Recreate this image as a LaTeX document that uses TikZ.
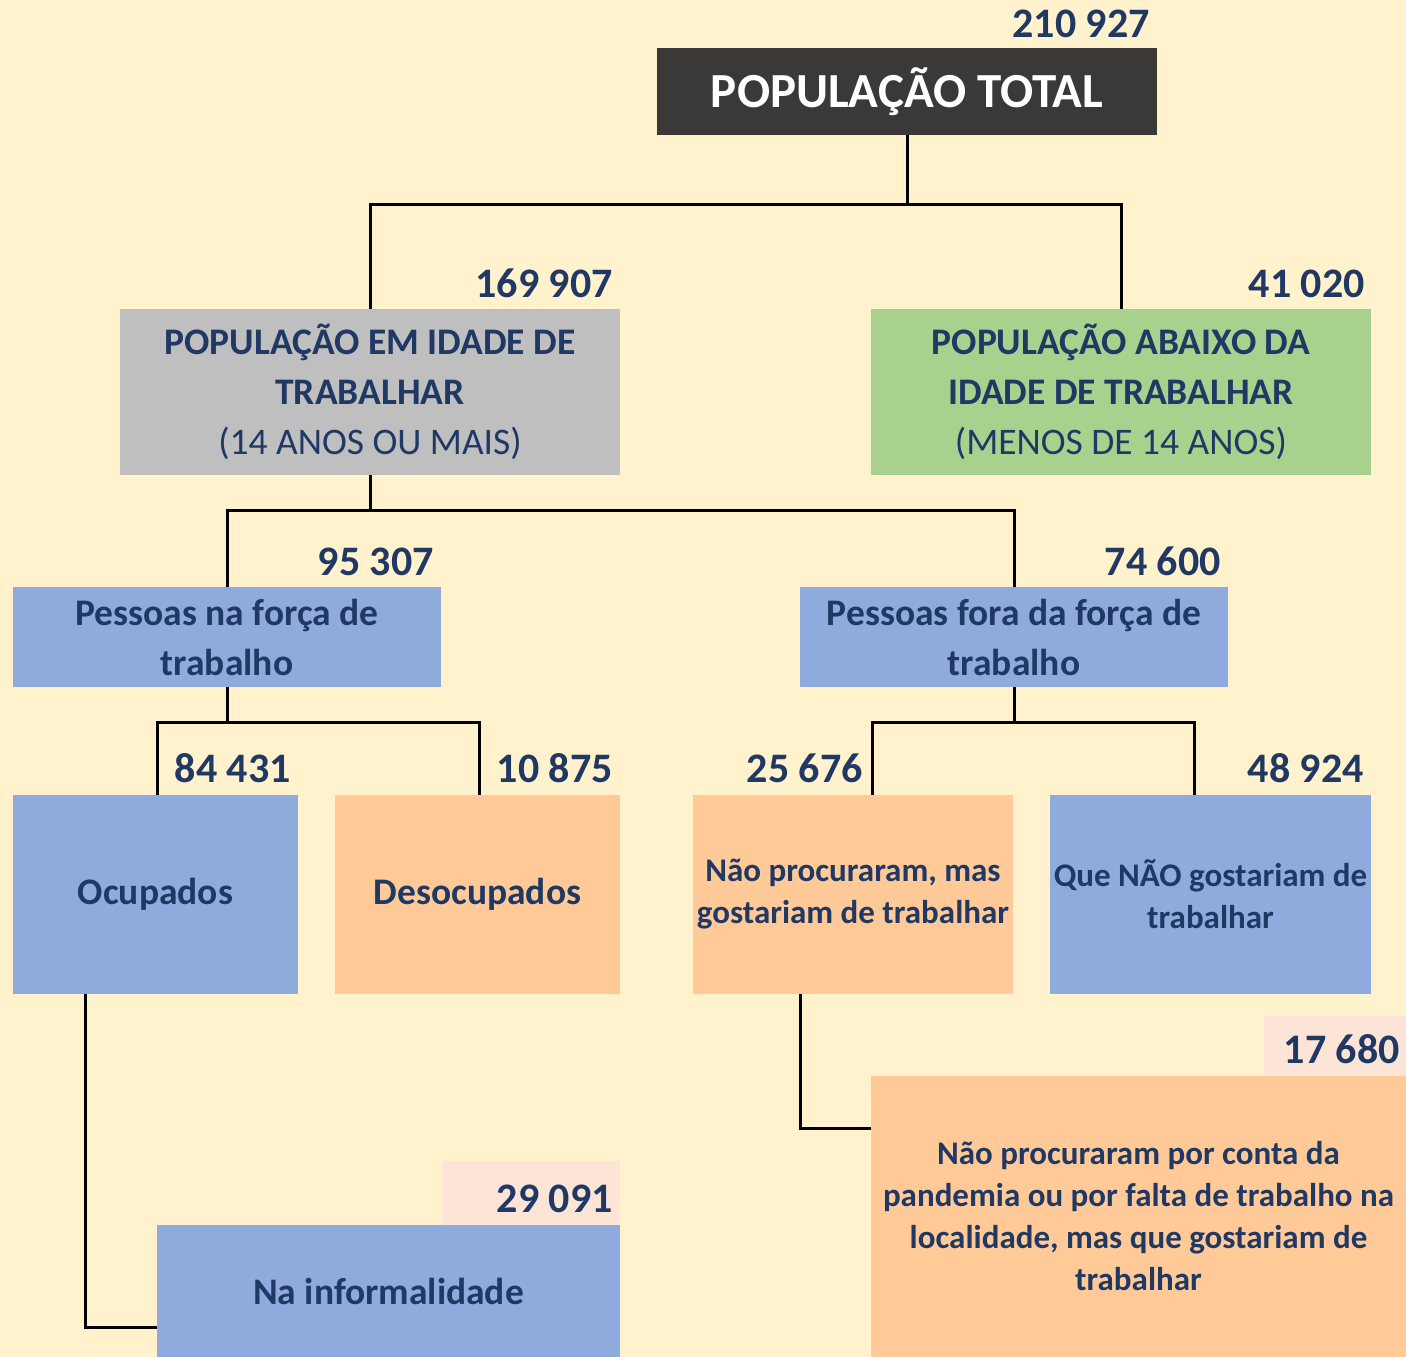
\documentclass[tikz,border=0pt]{standalone}
\usepackage{fontspec}
\setmainfont{Carlito}
\usepackage{tikz}
\usetikzlibrary{positioning}
\definecolor{bgyellow}{HTML}{FFF2CC}
\definecolor{navy}{HTML}{203864}
\definecolor{darkbox}{HTML}{3B3838}
\definecolor{graybox}{HTML}{BFBFBF}
\definecolor{greenbox}{HTML}{A9D18E}
\definecolor{bluebox}{HTML}{8FAADC}
\definecolor{orangebox}{HTML}{FFCA97}
\definecolor{pinkbox}{HTML}{FCE4D6}

\begin{document}
\begin{tikzpicture}[x=1pt,y=-1pt,
  box/.style={inner sep=0pt,align=center,text=navy,font=\fontsize{37.5}{50}\selectfont\bfseries},
  smallbox/.style={box,font=\fontsize{33}{42}\selectfont\bfseries},
  num/.style={anchor=base east,inner sep=0pt,text=navy,font=\fontsize{42}{50}\selectfont\bfseries},
  conn/.style={line width=3pt}]
        \useasboundingbox (0,0) rectangle (1406,1357);
        \fill[bgyellow] (0,0) rectangle (1406,1357);

        \node[box,fill=darkbox,text=white,minimum width=500pt,minimum height=87pt,font=\fontsize{49}{50}\selectfont\bfseries] (tot) at (907,91.5) {POPULAÇÃO TOTAL};
        \node[num] (ntot) at (1150,37) {210 927};

        \node[box,fill=graybox,minimum width=500pt,minimum height=166pt] (pet) at (370,392) {POPULAÇÃO EM IDADE DE\\TRABALHAR\\\mdseries(14 ANOS OU MAIS)};
        \node[num] (npet) at (613,297) {169 907};
        \node[box,fill=greenbox,minimum width=500pt,minimum height=166pt] (pabx) at (1121,392) {POPULAÇÃO ABAIXO DA\\IDADE DE TRABALHAR\\\mdseries(MENOS DE 14 ANOS)};
        \node[num] (npabx) at (1365,297) {41 020};

        \node[box,fill=bluebox,minimum width=428pt,minimum height=100pt] (pft) at (227,637) {Pessoas na força de\\trabalho};
        \node[num] (npft) at (434,575) {95 307};
        \node[box,fill=bluebox,minimum width=428pt,minimum height=100pt] (pfft) at (1014,637) {Pessoas fora da força de\\trabalho};
        \node[num] (npfft) at (1221,575) {74 600};

        \node[box,fill=bluebox,minimum width=285pt,minimum height=199pt] (ocup) at (155.5,894.5) {Ocupados};
        \node[num] (nocup) at (291,782) {84 431};
        \node[box,fill=orangebox,minimum width=285pt,minimum height=199pt] (desoc) at (477.5,894.5) {Desocupados};
        \node[num] (ndesoc) at (613,782) {10 875};
        \node[smallbox,fill=orangebox,minimum width=320pt,minimum height=199pt] (naop) at (853,894.5) {Não procuraram, mas\\gostariam de trabalhar};
        \node[num] (nnaop) at (863,782) {25 676};
        \node[smallbox,fill=bluebox,minimum width=321pt,minimum height=199pt] (quenao) at (1210.5,894.5) {Que NÃO gostariam de\\trabalhar};
        \node[num] (nquenao) at (1364,782) {48 924};

        \fill[pinkbox] (442,1161) rectangle (620,1225);
        \node[box,fill=bluebox,minimum width=463pt,minimum height=132pt] (inf) at (388.5,1291) {Na informalidade};
        \node[num] (ninf) at (613,1212) {29 091};
        \fill[pinkbox] (1264,1016) rectangle (1406,1076);
        \node[smallbox,fill=orangebox,minimum width=535pt,minimum height=281pt] (naopand) at (1138.5,1216.5) {Não procuraram por conta da\\pandemia ou por falta de trabalho na\\localidade, mas que gostariam de\\trabalhar};
        \node[num] (nnaopand) at (1400,1063) {17 680};

        \coordinate (j1) at (907,204);
        \draw[conn] (tot.south) -- (j1);
        \draw[conn] (pet.north) |- (j1) -| (pabx.north);
        \coordinate (j2) at (370,510);
        \draw[conn] (pet.south) -- (j2);
        \draw[conn] (pft.north) |- (j2) -| (pfft.north);
        \coordinate (j3) at (227,722);
        \draw[conn] (pft.south) -- (j3);
        \draw[conn] ([xshift=1.5pt]ocup.north) |- (j3) -| ([xshift=1.5pt]desoc.north);
        \coordinate (j4) at (1014,722);
        \draw[conn] (pfft.south) -- (j4);
        \draw[conn] ([xshift=19pt]naop.north) |- (j4) -| ([xshift=-16.5pt]quenao.north);
        \draw[conn] ([xshift=-70.5pt]ocup.south) |- ([yshift=-36pt]inf.west);
        \draw[conn] ([xshift=-53pt]naop.south) |- ([yshift=88.5pt]naopand.west);
    \end{tikzpicture}
\end{document}
